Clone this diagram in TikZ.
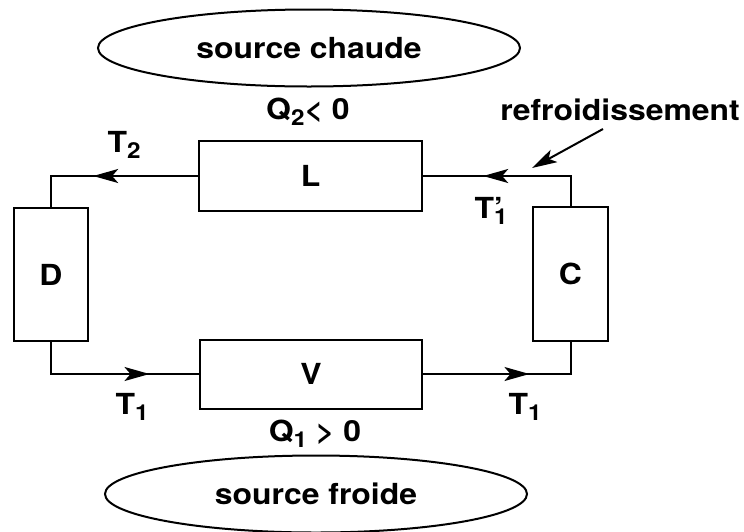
\documentclass[tikz,border=0pt]{standalone}
\usepackage{fontspec}
\setmainfont[FakeStretch=1.1]{TeX Gyre Heros}
\usetikzlibrary{arrows.meta,shapes.geometric,decorations.markings}
\newcommand\lowsub[1]{\raisebox{-3pt}{\fontsize{11}{11}\selectfont#1}}
\tikzset{
  unit/.style={draw,line width=1pt,inner sep=0pt},
  source/.style={draw,ellipse,line width=1pt,inner sep=0pt,
    minimum width=211pt,minimum height=38.5pt},
  flow/.style={line width=1pt,postaction={decorate},decoration={markings,
    mark=at position #1 with {\arrow{Stealth[length=12.5pt,width=7pt,inset=3pt]}}}}
}
\begin{document}
\begin{tikzpicture}[x=0.5pt,y=-0.5pt,font=\fontsize{14.5}{17}\selectfont\bfseries]
  \useasboundingbox (0,0) rectangle (744,531);
  % sources
  \node[source] (hot) at (309,48) {source chaude};
  \node[source] (cold) at (316,494) {source froide};
  % the four units of the cycle
  \node[unit,minimum width=111.5pt,minimum height=35pt] (L) at (310.5,176) {L};
  \node[unit,minimum width=111pt,minimum height=34.5pt] (V) at (311,374) {V};
  \node[unit,minimum width=37pt,minimum height=66.5pt] (D) at (51,274.5) {D};
  \node[unit,minimum width=37.5pt,minimum height=67pt] (C) at (570.5,274) {C};
  % labels
  \node (t2) at (124,145) {T\lowsub{2}};
  \node (q2) at (308,112) {Q\lowsub{2}< 0};
  \node (refr) at (620,110) {refroidissement};
  \node (t1p) at (491,211) {T\rlap{'}\lowsub{1}};
  \node (t1a) at (132,407) {T\lowsub{1}};
  \node (t1b) at (525,407) {T\lowsub{1}};
  \node (q1) at (315,434) {Q\lowsub{1} > 0};
  % circuit
  \draw[flow=0.589] (L.west) -| (D.north);
  \draw[flow=0.661] (C.north) |- (L.east);
  \draw[flow=0.725] (D.south) |- (V.west);
  \draw[flow=0.593] (V.east) -| (C.south);
  \coordinate (coolfrom) at (603,129);
  \coordinate (coolto) at (532,168);
  \draw[line width=1pt,-{Stealth[length=12.5pt,width=7pt,inset=3pt]}] (coolfrom) -- (coolto);
\end{tikzpicture}
\end{document}
